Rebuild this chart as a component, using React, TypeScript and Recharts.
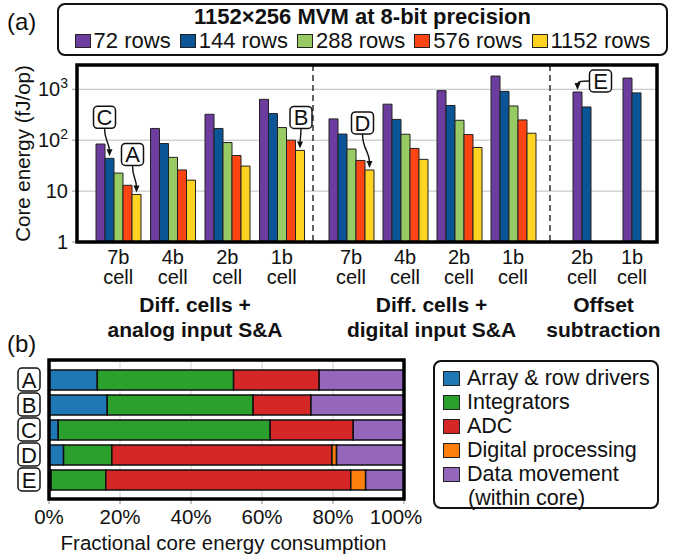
import React from "react";
import { BarChart, Bar, XAxis, YAxis, CartesianGrid, LabelList } from "recharts";

const FONT = '"Liberation Sans", Arial, Helvetica, sans-serif';

// ---- (a) core energy per MVM, fJ/op ----
const rowSeries = ["r72", "r144", "r288", "r576", "r1152"];
const rowNames = ["72 rows", "144 rows", "288 rows", "576 rows", "1152 rows"];
const rowColors = ["#6c3d9e", "#0b5597", "#98cb64", "#fc4512", "#fed322"];

const analogCells = ["7b", "4b", "2b", "1b"];
const analog72 = [84, 170, 323, 635];
const analog144 = [44, 86, 170, 333];
const analog288 = [22.6, 46, 90, 177];
const analog576 = [13, 26, 50, 100];
const analog1152 = [8.6, 16.4, 31, 63];

const digitalCells = ["7b", "4b", "2b", "1b"];
const digital72 = [262, 510, 940, 1820];
const digital144 = [132, 256, 480, 910];
const digital288 = [67, 131, 246, 470];
const digital576 = [40, 69, 129, 250];
const digital1152 = [26, 42, 72, 137];

const offsetCells = ["2b", "1b"];
const offset72 = [885, 1660];
const offset144 = [450, 850];

const energyTicks = [1, 10, 100, 1000];

// callouts linking (a) to rows of (b)
const callouts = [
  { group: "analog", series: "r144", cell: "7b", letter: "C" },
  { group: "analog", series: "r1152", cell: "7b", letter: "A" },
  { group: "analog", series: "r1152", cell: "1b", letter: "B" },
  { group: "digital", series: "r1152", cell: "7b", letter: "D" },
  { group: "offset", series: "r72", cell: "2b", letter: "E" },
];

// ---- (b) energy breakdown, % ----
const breakdownRows = ["A", "B", "C", "D", "E"];
const arrayShare = [13.6, 16.4, 2.6, 4.1, 0.6];
const integratorShare = [38.4, 41.1, 59.7, 13.6, 15.4];
const adcShare = [24.1, 16.3, 23.4, 62.0, 69.0];
const digitalShare = [0, 0, 0, 1.3, 4.2];
const movementShare = [23.9, 26.2, 14.3, 19.0, 10.8];

const partKeys = ["array", "integ", "adc", "digital", "move"];
const partNames = ["Array & row drivers", "Integrators", "ADC", "Digital processing", "Data movement"];
const partColors = ["#1f77b4", "#2ca02c", "#d62728", "#ff7f0e", "#9467bd"];
const pctTicks = [0, 20, 40, 60, 80, 100];

const makeRows = (cells: string[], cols: number[][]) =>
  cells.map((cell, i) => {
    const row: any = { cell };
    cols.forEach((c, j) => (row[rowSeries[j]] = c[i]));
    return row;
  });

const analogData = makeRows(analogCells, [analog72, analog144, analog288, analog576, analog1152]);
const digitalData = makeRows(digitalCells, [digital72, digital144, digital288, digital576, digital1152]);
const offsetData = makeRows(offsetCells, [offset72, offset144]);

const shareData = breakdownRows.map((row, i) => ({
  row,
  array: arrayShare[i],
  integ: integratorShare[i],
  adc: adcShare[i],
  digital: digitalShare[i],
  move: movementShare[i],
}));

// layout of callout boxes relative to the bar top
const calloutPlace: Record<string, { dx: number; dy: number; side?: boolean }> = {
  C: { dx: -5, dy: -41 },
  A: { dx: -4, dy: -40 },
  B: { dx: 1, dy: -33 },
  D: { dx: -7, dy: -47 },
  E: { dx: 23, dy: -11, side: true },
};

const TOP_H = 345;

const Callout = ({ letter, bx, by }: any) => {
  const p = calloutPlace[letter];
  const cx = bx + p.dx;
  const cy = by + p.dy;
  const ex = bx;
  const ey = by - 2;
  let d;
  if (p.side) {
    const sx = cx - 11;
    d = `M${sx},${cy} C${sx - 7},${cy} ${ex},${cy} ${ex},${ey - 5}`;
  } else {
    const sy = cy + 11;
    const k = ey - sy;
    d = `M${cx},${sy} C${cx},${sy + k * 0.45} ${ex},${ey - k * 0.5} ${ex},${ey - 5}`;
  }
  return (
    <g>
      <path d={d} fill="none" stroke="#111" strokeWidth={1.4} />
      <polygon points={`${ex},${ey} ${ex - 3},${ey - 7} ${ex + 3},${ey - 7}`} fill="#111" />
      <rect x={cx - 11} y={cy - 11} width={22} height={22} rx={4} fill="#fff" stroke="#111" strokeWidth={1.5} />
      <text x={cx} y={cy + 8} textAnchor="middle" fontSize={22} fill="#111" fontFamily={FONT}>
        {letter}
      </text>
    </g>
  );
};

const calloutContent = (group: string, series: string, data: any[]) => (props: any) => {
  const { x, y, width, index } = props;
  const row = data[index];
  if (!row) return null;
  const c = callouts.find((o) => o.group === group && o.series === series && o.cell === row.cell);
  if (!c) return null;
  return <Callout letter={c.letter} bx={Number(x) + Number(width) / 2} by={Number(y)} />;
};

const CellTick = (props: any) => {
  const { x, y, payload } = props;
  return (
    <g fontFamily={FONT} fontSize={20} fill="#111">
      <text x={x} y={y + 21} textAnchor="middle">{payload.value}</text>
      <text x={x} y={y + 41} textAnchor="middle">cell</text>
    </g>
  );
};

const EnergyTick = (props: any) => {
  const { x, y, payload } = props;
  const v = payload.value;
  const exp = Math.round(Math.log10(v));
  return (
    <text x={x} y={y + 7} textAnchor="end" fontSize={20} fill="#111" fontFamily={FONT}>
      {v < 100 ? String(v) : "10"}
      {v >= 100 && (
        <tspan dy={-8} fontSize={14}>
          {exp}
        </tspan>
      )}
    </text>
  );
};

const groupLabel = (lines: string[]) => (props: any) => {
  const vb = props.viewBox;
  const cx = vb.x + vb.width / 2;
  return (
    <text textAnchor="middle" fontSize={21} fontWeight="bold" fill="#111" fontFamily={FONT}>
      <tspan x={cx} y={vb.y + 70}>{lines[0]}</tspan>
      <tspan x={cx} y={vb.y + 95}>{lines[1]}</tspan>
    </text>
  );
};

const energyLabel = (props: any) => {
  const vb = props.viewBox;
  const cy = vb.y + vb.height / 2;
  return (
    <text x={22} y={cy} transform={`rotate(-90 22 ${cy})`} textAnchor="middle" dominantBaseline="central" fontSize={20.5} fill="#111" fontFamily={FONT}>
      Core energy (fJ/op)
    </text>
  );
};

function EnergyGroup({ data, keys, width, margin, padding, group, lines, showY }: any) {
  return (
    <BarChart width={width} height={TOP_H} data={data} margin={margin} barGap={0} barSize={9}>
      <CartesianGrid vertical={false} stroke="#bdbdbd" />
      <XAxis
        dataKey="cell"
        interval={0}
        tick={<CellTick />}
        tickLine={false}
        axisLine={false}
        tickSize={0}
        tickMargin={1}
        height={103}
        padding={padding}
        label={groupLabel(lines)}
      />
      <YAxis
        scale="log"
        domain={[1, 3000]}
        allowDataOverflow
        ticks={energyTicks}
        hide={!showY}
        width={77}
        axisLine={false}
        tickLine={{ stroke: "#999" }}
        tickSize={5}
        tickMargin={4}
        tick={<EnergyTick />}
        label={energyLabel}
      />
      {keys.map((k: string) => {
        const j = rowSeries.indexOf(k);
        return (
          <Bar key={k} dataKey={k} name={rowNames[j]} fill={rowColors[j]} stroke="#222" strokeWidth={1} isAnimationActive={false}>
            <LabelList dataKey={k} content={calloutContent(group, k, data)} />
          </Bar>
        );
      })}
    </BarChart>
  );
}

const RowTick = (props: any) => {
  const { y, payload } = props;
  const cx = 29;
  return (
    <g>
      <rect x={cx - 11} y={y - 11.5} width={22} height={23} rx={4} fill="#fff" stroke="#111" strokeWidth={1.5} />
      <text x={cx} y={y + 8} textAnchor="middle" fontSize={22} fill="#111" fontFamily={FONT}>
        {payload.value}
      </text>
    </g>
  );
};

const fracLabel = (props: any) => {
  const vb = props.viewBox;
  return (
    <text x={vb.x + vb.width / 2 - 3} y={vb.y + 51} textAnchor="middle" fontSize={20.5} fill="#111" fontFamily={FONT}>
      Fractional core energy consumption
    </text>
  );
};

const swatch = (color: string, size: number) => (
  <span
    style={{
      display: "inline-block",
      width: size,
      height: size - 2,
      background: color,
      border: "1.5px solid #222",
      boxSizing: "border-box",
      marginRight: 3,
    }}
  />
);

export default function App() {
  return (
    <div
      style={{
        position: "absolute",
        left: 0,
        top: 0,
        width: 680,
        height: 557,
        background: "#fff",
        fontFamily: FONT,
        color: "#111",
        overflow: "hidden",
      }}
    >
      <style>{`.recharts-surface{overflow:visible}`}</style>
      <div style={{ position: "absolute", left: 0, top: 0 }}>
        <EnergyGroup
          data={analogData}
          keys={rowSeries}
          width={313}
          margin={{ top: 65, right: 0, bottom: 0, left: 0 }}
          padding={{ left: 14, right: 4 }}
          group="analog"
          lines={["Diff. cells +", "analog input S&A"]}
          showY
        />
      </div>
      <div style={{ position: "absolute", left: 313, top: 0 }}>
        <EnergyGroup
          data={digitalData}
          keys={rowSeries}
          width={237}
          margin={{ top: 65, right: 0, bottom: 0, left: 0 }}
          padding={{ left: 11, right: 10 }}
          group="digital"
          lines={["Diff. cells +", "digital input S&A"]}
        />
      </div>
      <div style={{ position: "absolute", left: 550, top: 0 }}>
        <EnergyGroup
          data={offsetData}
          keys={["r72", "r144"]}
          width={130}
          margin={{ top: 65, right: 23, bottom: 0, left: 0 }}
          padding={{ left: 7, right: 0 }}
          group="offset"
          lines={["Offset", "subtraction"]}
        />
      </div>

      <div style={{ position: "absolute", left: 0, top: 340 }}>
        <BarChart
          layout="vertical"
          width={420}
          height={217}
          data={shareData}
          margin={{ top: 20, right: 16, bottom: 0, left: 0 }}
          barSize={20}
        >
          <CartesianGrid horizontal={false} stroke="#cfcfcf" />
          <XAxis
            type="number"
            domain={[0, 100]}
            ticks={pctTicks}
            tickFormatter={(v: number) => `${v}%`}
            height={58}
            axisLine={false}
            tickLine={{ stroke: "#888" }}
            tickSize={5}
            tickMargin={5}
            tick={{ fontSize: 20.5, fill: "#111", fontFamily: FONT }}
            label={fracLabel}
          />
          <YAxis
            type="category"
            dataKey="row"
            width={49}
            axisLine={false}
            tickLine={false}
            padding={{ top: 7, bottom: 7 }}
            tick={<RowTick />}
          />
          {partKeys.map((k, i) => (
            <Bar key={k} dataKey={k} name={partNames[i]} stackId="s" fill={partColors[i]} stroke="#111" strokeWidth={1.5} isAnimationActive={false} />
          ))}
        </BarChart>
      </div>

      {/* frames and group dividers */}
      <svg width={680} height={557} style={{ position: "absolute", left: 0, top: 0, pointerEvents: "none" }}>
        <line x1={313} y1={65} x2={313} y2={242} stroke="#111" strokeWidth={1.3} strokeDasharray="6 4" />
        <line x1={550} y1={65} x2={550} y2={242} stroke="#111" strokeWidth={1.3} strokeDasharray="6 4" />
        <rect x={77} y={65} width={580} height={177} fill="none" stroke="#000" strokeWidth={3.5} />
        <rect x={49} y={360} width={355} height={139} fill="none" stroke="#000" strokeWidth={3.5} />
      </svg>

      <div style={{ position: "absolute", left: 7, top: 8, fontSize: 24 }}>(a)</div>
      <div style={{ position: "absolute", left: 7, top: 330, fontSize: 24 }}>(b)</div>

      <div
        style={{
          position: "absolute",
          left: 57,
          top: 3,
          width: 611,
          height: 53,
          border: "2px solid #111",
          borderRadius: 8,
          boxSizing: "border-box",
          textAlign: "center",
        }}
      >
        <div style={{ fontWeight: "bold", fontSize: 22, lineHeight: "24px", marginTop: 0 }}>
          1152×256 MVM at 8-bit precision
        </div>
        <div style={{ display: "flex", justifyContent: "center", gap: 9, fontSize: 22, lineHeight: "24px" }}>
          {rowNames.map((n, i) => (
            <span key={n} style={{ display: "flex", alignItems: "center", whiteSpace: "nowrap" }}>
              {swatch(rowColors[i], 16)}
              {n}
            </span>
          ))}
        </div>
      </div>

      <div
        style={{
          position: "absolute",
          left: 433,
          top: 360,
          width: 226,
          height: 149,
          border: "2px solid #111",
          borderRadius: 8,
          boxSizing: "border-box",
          padding: "4px 0 0 8px",
          fontSize: 21.5,
          lineHeight: "24px",
        }}
      >
        {partNames.map((n, i) => (
          <div key={n} style={{ display: "flex", alignItems: "center", whiteSpace: "nowrap" }}>
            {swatch(partColors[i], 17)}
            <span style={{ marginLeft: 4 }}>{n}</span>
          </div>
        ))}
        <div style={{ paddingLeft: 25 }}>(within core)</div>
      </div>
    </div>
  );
}
